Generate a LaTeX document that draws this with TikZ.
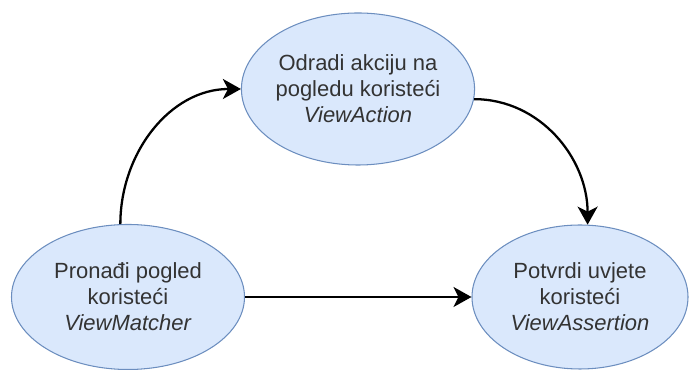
\documentclass[tikz,border=0pt]{standalone}
\usepackage{fontspec}
\setmainfont{Liberation Sans}
\usepackage{xcolor}
\usetikzlibrary{shapes, arrows.meta, positioning}

\definecolor{stepfill}{HTML}{DAE8FC}
\definecolor{stepline}{HTML}{6C8EBF}
\definecolor{steptext}{HTML}{333333}

\begin{document}
\begin{tikzpicture}[
        stepnode/.style={ellipse, draw=stepline, fill=stepfill, line width=0.6pt,
          text=steptext, align=center, inner sep=0pt,
          font=\fontsize{12.5}{14.8}\selectfont},
        flow/.style={line width=1.3pt,
          -{Stealth[length=0.36cm, width=0.4cm, inset=0.1cm]}}]
        \useasboundingbox (0,0) rectangle (13.8,7.4);
        \node[stepnode, minimum width=4.62cm, minimum height=3.04cm] (action) at (7.16,5.62)
          {Odradi akciju na\\pogledu koristeći\\\textit{ViewAction}};
        \node[stepnode, minimum width=4.66cm, minimum height=2.9cm]  (matcher) at (2.56,1.46)
          {Pronađi pogled\\koristeći\\\textit{ViewMatcher}};
        \node[stepnode, minimum width=4.32cm, minimum height=2.88cm] (assertion) at (11.6,1.46)
          {Potvrdi uvjete\\koristeći\\\textit{ViewAssertion}};
        \path[flow]
          (matcher.96)  edge [out=90, in=180] (action.west)
          (action.-5)   edge [out=0, in=90]   (assertion.84)
          (matcher.east) edge []              (assertion.west);
      \end{tikzpicture}
\end{document}
